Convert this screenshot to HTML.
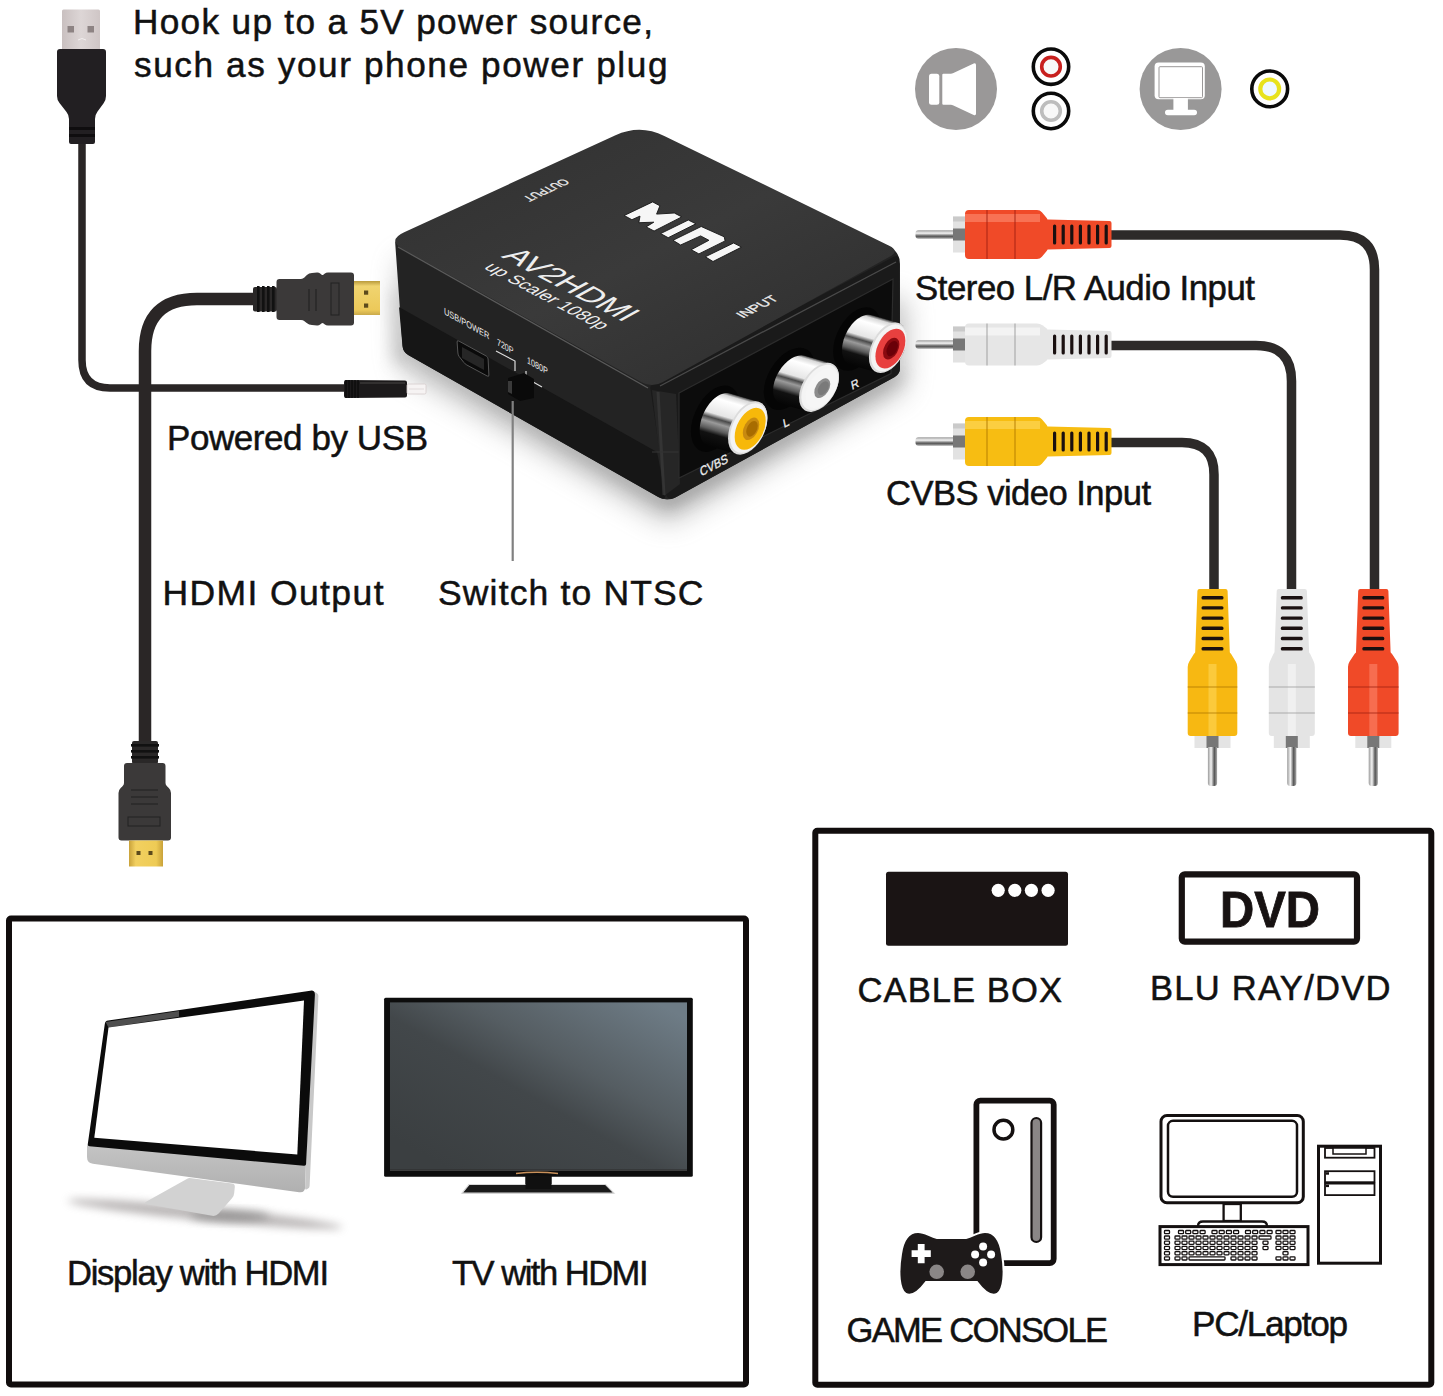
<!DOCTYPE html>
<html><head><meta charset="utf-8"><title>AV2HDMI</title>
<style>
html,body{margin:0;padding:0;background:#fff;}
body{width:1443px;height:1396px;overflow:hidden;}
svg{display:block;}
text{font-family:"Liberation Sans",sans-serif;}
</style></head><body>
<svg width="1443" height="1396" viewBox="0 0 1443 1396">
<defs>
<filter id="b2" x="-50%" y="-50%" width="200%" height="200%"><feGaussianBlur stdDeviation="2"/></filter>
<filter id="b4" x="-50%" y="-50%" width="200%" height="200%"><feGaussianBlur stdDeviation="4"/></filter>
<filter id="b8" x="-50%" y="-50%" width="200%" height="200%"><feGaussianBlur stdDeviation="8"/></filter>
<filter id="b14" x="-50%" y="-50%" width="200%" height="200%"><feGaussianBlur stdDeviation="14"/></filter>
<linearGradient id="tvscreen" x1="0.1" y1="0.9" x2="0.95" y2="0.05">
 <stop offset="0" stop-color="#3b3f41"/><stop offset="0.42" stop-color="#42474a"/><stop offset="0.62" stop-color="#555d62"/><stop offset="1" stop-color="#6e7c86"/>
</linearGradient>
<linearGradient id="gold" x1="0" y1="0" x2="0" y2="1">
 <stop offset="0" stop-color="#b99a3c"/><stop offset="0.15" stop-color="#f0d470"/><stop offset="0.85" stop-color="#ecc95a"/><stop offset="1" stop-color="#c9a94a"/>
</linearGradient>
<linearGradient id="goldv" x1="0" y1="0" x2="1" y2="0">
 <stop offset="0" stop-color="#c9a23a"/><stop offset="0.2" stop-color="#f2d060"/><stop offset="0.8" stop-color="#eecb55"/><stop offset="1" stop-color="#c9a23a"/>
</linearGradient>
<linearGradient id="pinh" x1="0" y1="0" x2="0" y2="1">
 <stop offset="0" stop-color="#9a9a9a"/><stop offset="0.35" stop-color="#f4f4f4"/><stop offset="0.7" stop-color="#555"/><stop offset="1" stop-color="#aaa"/>
</linearGradient>
<linearGradient id="pinv" x1="0" y1="0" x2="1" y2="0">
 <stop offset="0" stop-color="#9a9a9a"/><stop offset="0.35" stop-color="#f4f4f4"/><stop offset="0.7" stop-color="#555"/><stop offset="1" stop-color="#aaa"/>
</linearGradient>
<linearGradient id="usbmetal" x1="0" y1="0" x2="1" y2="0">
 <stop offset="0" stop-color="#c9c0c0"/><stop offset="0.5" stop-color="#ddd6d6"/><stop offset="1" stop-color="#cfc6c6"/>
</linearGradient>
<linearGradient id="topface" x1="0" y1="0" x2="1" y2="1">
 <stop offset="0" stop-color="#303030"/><stop offset="0.5" stop-color="#3a3a3a"/><stop offset="1" stop-color="#2c2c2c"/>
</linearGradient>
<linearGradient id="imacchin" x1="0" y1="0" x2="0" y2="1">
 <stop offset="0" stop-color="#c4c4c4"/><stop offset="1" stop-color="#b0b0b0"/>
</linearGradient>
</defs>
<rect width="1443" height="1396" fill="#ffffff"/>
<g opacity="0.5" filter="url(#b14)"><polygon points="400.0,260.0 402.0,368.0 668.0,522.0 905.0,388.0 905.0,300.0" fill="#7a7a7a"/></g>
<g opacity="0.25" filter="url(#b8)"><polygon points="390.0,290.0 392.0,362.0 410.0,366.0 400.0,290.0" fill="#777"/></g>
<g opacity="0.5" filter="url(#b8)"><polygon points="410.0,355.0 668.0,508.0 902.0,378.0 902.0,372.0 666.0,500.0 405.0,350.0" fill="#555"/></g>
<path d="M395.2,243.0 Q395.0,240.0 397.7,238.7 L615.6,136.5 Q640.0,125.0 664.3,136.9 L889.2,246.7 Q900.0,252.0 900.0,264.0 L900.0,368.0 Q900.0,374.0 894.7,376.9 L675.8,497.2 Q667.0,502.0 658.3,497.1 L408.2,355.0 Q403.0,352.0 402.6,346.0 Z" fill="#232323"/>
<path d="M399.1,308.0 Q399.0,307.0 399.9,307.5 L656.1,451.5 Q657.0,452.0 657.2,453.0 L665.0,492.2 Q667.0,502.0 658.3,497.1 L408.2,355.0 Q403.0,352.0 402.5,346.0 Z" fill="#161616"/>
<path d="M650.3,388.0 Q650.0,386.0 651.8,385.1 L893.7,256.8 Q899.0,254.0 899.0,260.0 L900.0,368.0 Q900.0,374.0 894.7,376.9 L675.8,497.2 Q667.0,502.0 665.5,492.1 Z" fill="#1a1a1a"/>
<polygon points="652.0,390.0 676.0,394.0 680.0,484.0 664.0,496.0" fill="#262626"/>
<line x1="658" y1="392" x2="664" y2="495" stroke="#3a3a3a" stroke-width="3" opacity="0.7"/>
<line x1="652" y1="452" x2="679" y2="452" stroke="#333" stroke-width="1.2"/>
<polygon points="679.0,393.0 893.0,279.0 891.0,373.5 679.0,478.0" fill="#0c0c0c" stroke="#2c2c2c" stroke-width="1.2"/>
<path d="M403.5,249.4 Q386.9,240.1 404.2,232.2 L615.5,135.3 Q640.0,124.0 664.3,135.9 L889.2,245.7 Q900.0,251.0 889.5,256.8 L662.5,382.2 Q652.0,388.0 641.5,382.2 Z" fill="url(#topface)"/>
<path d="M398,247 L648,388" stroke="#5a5a5a" stroke-width="1.3" fill="none"/>
<path d="M660,386 L896,262" stroke="#4a4a4a" stroke-width="1.3" fill="none"/>
<polygon points="624.2,215.5 652.7,201.9 659.9,205.8 656.6,214.1 674.3,213.0 681.8,216.9 654.1,231.0 646.1,226.9 653.8,222.2 638.8,222.7 640.0,216.1 631.9,219.7" fill="#f6f6f6" stroke="#151515" stroke-width="0.9" stroke-linejoin="round"/>
<polygon points="660.6,233.6 688.3,220.0 695.9,223.8 668.2,237.7" fill="#f6f6f6" stroke="#151515" stroke-width="0.9" stroke-linejoin="round"/>
<polygon points="673.0,240.3 701.2,226.5 724.2,236.8 725.1,240.9 698.9,253.9 691.2,249.7 708.9,240.3 700.6,235.9 680.6,245.0" fill="#f6f6f6" stroke="#151515" stroke-width="0.9" stroke-linejoin="round"/>
<polygon points="705.3,256.8 733.6,243.0 741.6,247.1 713.0,261.5" fill="#f6f6f6" stroke="#151515" stroke-width="0.9" stroke-linejoin="round"/>
<g fill="#eeeeee">
<text transform="matrix(0.883 0.469 -0.877 0.481 500.6 256.8)" font-size="30.7" textLength="140" lengthAdjust="spacingAndGlyphs">AV2HDMI</text>
<text transform="matrix(0.883 0.469 -0.877 0.481 483 268)" font-size="18.5" textLength="133" lengthAdjust="spacingAndGlyphs">up Scaler 1080p</text>
<text transform="matrix(-0.906 0.423 -0.870 -0.493 563 178.5)" font-size="12.5" stroke="#eee" stroke-width="0.35" textLength="45" lengthAdjust="spacingAndGlyphs">OUTPUT</text>
<text transform="matrix(0.886 -0.464 0.870 0.493 743 318.5)" font-size="13.5" stroke="#eee" stroke-width="0.35" textLength="41" lengthAdjust="spacingAndGlyphs">INPUT</text>
<text transform="matrix(0.87 0.493 0 1 444 314)" font-size="9.5" textLength="52" lengthAdjust="spacingAndGlyphs">USB/POWER</text>
<text transform="matrix(0.87 0.493 0 1 497 345)" font-size="9.5" textLength="19" lengthAdjust="spacingAndGlyphs">720P</text>
<text transform="matrix(0.87 0.493 0 1 527 363)" font-size="9.5" textLength="24" lengthAdjust="spacingAndGlyphs">1080P</text>
<text transform="matrix(0.886 -0.464 0.2 1 701 476.5)" font-size="12.5" stroke="#eee" stroke-width="0.3" textLength="31" lengthAdjust="spacingAndGlyphs">CVBS</text>
<text transform="matrix(0.886 -0.464 0.2 1 784 428)" font-size="11.5" stroke="#eee" stroke-width="0.3">L</text>
<text transform="matrix(0.886 -0.464 0.2 1 852 390)" font-size="11.5" stroke="#eee" stroke-width="0.3">R</text>
</g>
<path d="M496,351 L515,361 L515,371 M526,371 L526,378 L542,387" stroke="#ddd" stroke-width="1.2" fill="none"/>
<path d="M457.1,342.0 Q457.0,340.0 458.8,341.0 L486.2,356.0 Q488.0,357.0 488.1,359.0 L488.9,375.0 Q489.0,377.0 487.2,376.0 L466.8,365.0 Q465.0,364.0 463.8,362.4 L459.2,356.6 Q458.0,355.0 457.9,353.0 Z" fill="#0a0a0a" stroke="#555" stroke-width="1"/>
<polygon points="462.0,347.0 484.0,359.0 484.0,370.0 462.0,358.0" fill="#262626"/>
<polygon points="508.0,378.0 524.0,373.0 534.0,379.0 534.0,398.0 520.0,401.0 508.0,394.0" fill="#0a0a0a"/>
<polygon points="508.0,381.0 512.0,381.0 512.0,394.0 508.0,392.0" fill="#3a3a3a"/>
<line x1="512.7" y1="401" x2="512.7" y2="561" stroke="#808080" stroke-width="2.2"/>
<circle r="29.2" transform="matrix(0.818 -0.428 0 1 857.0 339.0)" fill="#050505"/>
<linearGradient id="gr" gradientUnits="userSpaceOnUse" x1="895.4" y1="322.1" x2="880.4" y2="373.5"><stop offset="0" stop-color="#3a3a3a"/><stop offset="0.05" stop-color="#d8d8d8"/><stop offset="0.15" stop-color="#ffffff"/><stop offset="0.42" stop-color="#e6e6e6"/><stop offset="0.5" stop-color="#4a4a4a"/><stop offset="0.58" stop-color="#9a9a9a"/><stop offset="0.7" stop-color="#5a5a5a"/><stop offset="0.78" stop-color="#111"/><stop offset="1" stop-color="#050505"/></linearGradient>
<path d="M842.0,349.9 L842.1,347.8 L842.3,345.7 L842.7,343.6 L843.2,341.4 L843.8,339.2 L844.6,337.0 L845.5,334.8 L846.5,332.7 L847.6,330.6 L848.8,328.6 L850.1,326.7 L851.5,324.8 L853.0,323.1 L854.5,321.6 L856.1,320.1 L857.7,318.8 L859.4,317.7 L861.0,316.8 L862.7,316.0 L864.3,315.4 L865.9,315.0 L867.5,314.8 L869.0,314.7 L870.5,314.9 L871.9,315.3 L898.8,323.1 L900.1,323.6 L901.3,324.4 L902.4,325.3 L903.4,326.4 L904.3,327.6 L905.1,329.0 L905.7,330.5 L906.2,332.2 L906.6,334.0 L906.8,335.9 L906.9,337.9 L906.8,339.9 L906.6,342.0 L906.2,344.2 L905.7,346.4 L905.1,348.6 L904.3,350.8 L903.4,353.0 L902.4,355.1 L901.3,357.2 L900.1,359.2 L898.8,361.1 L897.4,362.9 L895.9,364.6 L894.4,366.2 L892.8,367.6 L891.2,368.9 L889.6,370.0 L887.9,371.0 L886.2,371.8 L884.6,372.4 L883.0,372.8 L881.4,373.0 L879.9,373.0 L878.4,372.9 L877.0,372.5 L850.1,364.7 L848.8,364.1 L847.6,363.4 L846.5,362.5 L845.5,361.4 L844.6,360.2 L843.8,358.8 L843.2,357.2 L842.7,355.6 L842.3,353.8 L842.1,351.9 Z" fill="url(#gr)"/>
<circle r="23.2" transform="matrix(0.818 -0.428 0 1 887.9 347.8)" fill="#dcdcdc"/>
<circle r="21.6" transform="matrix(0.818 -0.428 0 1 888.7 347.8)" fill="#f4f4f4"/>
<circle r="18.3" transform="matrix(0.818 -0.428 0 1 890.4 348.6)" fill="#e8403f"/>
<circle r="10.0" transform="matrix(0.818 -0.428 0 1 891.2 348.6)" fill="#8a0a10"/>
<circle r="7.0" transform="matrix(0.818 -0.428 0 1 892.2 348.6)" fill="#6a0008"/>
<circle r="28.2" transform="matrix(0.898 -0.470 0 1 789.1 378.8)" fill="#050505"/>
<linearGradient id="gw" gradientUnits="userSpaceOnUse" x1="826.4" y1="362.0" x2="811.6" y2="412.8"><stop offset="0" stop-color="#3a3a3a"/><stop offset="0.05" stop-color="#d8d8d8"/><stop offset="0.15" stop-color="#ffffff"/><stop offset="0.42" stop-color="#e6e6e6"/><stop offset="0.5" stop-color="#4a4a4a"/><stop offset="0.58" stop-color="#9a9a9a"/><stop offset="0.7" stop-color="#5a5a5a"/><stop offset="0.78" stop-color="#111"/><stop offset="1" stop-color="#050505"/></linearGradient>
<path d="M773.1,390.3 L773.2,388.3 L773.4,386.3 L773.8,384.2 L774.3,382.1 L775.0,379.9 L775.8,377.8 L776.7,375.7 L777.8,373.6 L779.0,371.5 L780.3,369.5 L781.6,367.6 L783.1,365.8 L784.7,364.1 L786.3,362.6 L787.9,361.1 L789.6,359.8 L791.3,358.6 L793.1,357.6 L794.8,356.8 L796.5,356.2 L798.2,355.7 L799.9,355.4 L801.5,355.3 L803.1,355.4 L804.5,355.7 L830.4,363.2 L831.8,363.7 L833.1,364.3 L834.3,365.1 L835.3,366.1 L836.3,367.3 L837.1,368.6 L837.7,370.0 L838.3,371.6 L838.6,373.3 L838.9,375.1 L838.9,377.0 L838.9,378.9 L838.6,381.0 L838.3,383.1 L837.7,385.2 L837.1,387.3 L836.3,389.5 L835.3,391.6 L834.3,393.7 L833.1,395.7 L831.8,397.7 L830.4,399.6 L829.0,401.4 L827.4,403.1 L825.8,404.7 L824.2,406.1 L822.5,407.4 L820.7,408.6 L819.0,409.6 L817.3,410.4 L815.5,411.1 L813.8,411.5 L812.2,411.8 L810.6,411.9 L809.0,411.8 L807.6,411.6 L781.6,404.0 L780.3,403.6 L779.0,402.9 L777.8,402.1 L776.7,401.1 L775.8,400.0 L775.0,398.7 L774.3,397.2 L773.8,395.7 L773.4,394.0 L773.2,392.2 Z" fill="url(#gw)"/>
<circle r="22.2" transform="matrix(0.898 -0.470 0 1 819.0 387.4)" fill="#dcdcdc"/>
<circle r="20.6" transform="matrix(0.898 -0.470 0 1 819.8 387.4)" fill="#f4f4f4"/>
<circle r="17.8" transform="matrix(0.898 -0.470 0 1 821.5 388.2)" fill="#f6f6f6"/>
<circle r="8.9" transform="matrix(0.898 -0.470 0 1 822.3 388.2)" fill="#8c8c8c"/>
<circle r="6.2" transform="matrix(0.898 -0.470 0 1 823.3 388.2)" fill="#7a7a7a"/>
<circle r="30.6" transform="matrix(0.800 -0.419 0 1 715.4 418.7)" fill="#050505"/>
<linearGradient id="gy" gradientUnits="userSpaceOnUse" x1="755.6" y1="400.9" x2="739.8" y2="455.1"><stop offset="0" stop-color="#3a3a3a"/><stop offset="0.05" stop-color="#d8d8d8"/><stop offset="0.15" stop-color="#ffffff"/><stop offset="0.42" stop-color="#e6e6e6"/><stop offset="0.5" stop-color="#4a4a4a"/><stop offset="0.58" stop-color="#9a9a9a"/><stop offset="0.7" stop-color="#5a5a5a"/><stop offset="0.78" stop-color="#111"/><stop offset="1" stop-color="#050505"/></linearGradient>
<path d="M699.7,430.0 L699.8,427.9 L700.0,425.6 L700.4,423.3 L700.9,421.0 L701.5,418.7 L702.3,416.4 L703.3,414.1 L704.3,411.8 L705.5,409.6 L706.7,407.5 L708.1,405.5 L709.5,403.6 L711.1,401.8 L712.6,400.1 L714.3,398.6 L716.0,397.3 L717.7,396.1 L719.4,395.1 L721.1,394.3 L722.8,393.7 L724.5,393.3 L726.1,393.1 L727.7,393.1 L729.2,393.3 L730.7,393.7 L759.0,401.9 L760.4,402.5 L761.6,403.3 L762.8,404.3 L763.8,405.4 L764.7,406.8 L765.5,408.3 L766.2,409.9 L766.7,411.7 L767.1,413.6 L767.3,415.6 L767.4,417.7 L767.3,419.9 L767.1,422.1 L766.7,424.4 L766.2,426.7 L765.5,429.1 L764.7,431.4 L763.8,433.7 L762.8,435.9 L761.6,438.1 L760.4,440.2 L759.0,442.2 L757.5,444.2 L756.0,445.9 L754.4,447.6 L752.8,449.1 L751.1,450.4 L749.4,451.6 L747.7,452.6 L746.0,453.4 L744.3,454.0 L742.6,454.4 L741.0,454.6 L739.4,454.7 L737.9,454.5 L736.4,454.1 L708.1,445.8 L706.7,445.2 L705.5,444.4 L704.3,443.4 L703.3,442.3 L702.3,441.0 L701.5,439.5 L700.9,437.8 L700.4,436.1 L700.0,434.2 L699.8,432.2 Z" fill="url(#gy)"/>
<circle r="24.6" transform="matrix(0.800 -0.419 0 1 747.7 428.0)" fill="#dcdcdc"/>
<circle r="22.9" transform="matrix(0.800 -0.419 0 1 748.5 428.0)" fill="#f4f4f4"/>
<circle r="19.4" transform="matrix(0.800 -0.419 0 1 750.2 428.8)" fill="#f7b80a"/>
<circle r="10.3" transform="matrix(0.800 -0.419 0 1 751.0 428.8)" fill="#c88a10"/>
<circle r="7.2" transform="matrix(0.800 -0.419 0 1 752.0 428.8)" fill="#a86c00"/>
<path d="M82,140 L82,360 Q82,388 110,388 L346,388" stroke="#2a2626" stroke-width="7.5" fill="none"/>
<path d="M344.0,382.0 Q344.0,380.0 346.0,380.0 L405.0,380.5 Q407.0,380.5 407.0,382.5 L407.0,395.5 Q407.0,397.5 405.0,397.5 L346.0,398.0 Q344.0,398.0 344.0,396.0 Z" fill="#1c1a1b"/>
<line x1="346" y1="380" x2="346" y2="398" stroke="#0a0a0a" stroke-width="1.2"/>
<line x1="349" y1="380" x2="349" y2="398" stroke="#0a0a0a" stroke-width="1.2"/>
<line x1="352" y1="380" x2="352" y2="398" stroke="#0a0a0a" stroke-width="1.2"/>
<line x1="355" y1="380" x2="355" y2="398" stroke="#0a0a0a" stroke-width="1.2"/>
<line x1="358" y1="380" x2="358" y2="398" stroke="#0a0a0a" stroke-width="1.2"/>
<line x1="360" y1="383" x2="405" y2="383" stroke="#3a3838" stroke-width="1.5"/>
<path d="M407.0,385.5 Q407.0,384.0 408.5,384.0 L424.5,384.0 Q426.0,384.0 426.0,385.5 L426.0,392.5 Q426.0,394.0 424.5,394.0 L408.5,394.0 Q407.0,394.0 407.0,392.5 Z" fill="#f6f3f3" stroke="#d6cccc" stroke-width="0.8"/>
<line x1="409" y1="389" x2="424" y2="389" stroke="#ddd4d4" stroke-width="0.8"/>
<path d="M62.0,11.0 Q62.0,9.5 63.5,9.5 L98.5,9.5 Q100.0,9.5 100.0,11.0 L100.0,48.5 Q100.0,50.0 98.5,50.0 L63.5,50.0 Q62.0,50.0 62.0,48.5 Z" fill="url(#usbmetal)"/>
<rect x="67.5" y="26" width="6.5" height="6.5" fill="#8d8383"/><rect x="87.5" y="26" width="6.5" height="6.5" fill="#8d8383"/>
<path d="M78,40 l4,-1.5 l4,1.5" stroke="#f2eeee" stroke-width="1" fill="none"/>
<path d="M57.0,52.0 Q57.0,49.0 60.0,49.0 L103.0,49.0 Q106.0,49.0 106.0,52.0 L106.0,96.0 Q106.0,100.0 103.6,103.2 L97.4,111.8 Q95.0,115.0 95.0,119.0 L95.0,142.0 Q95.0,144.0 93.0,144.0 L71.0,144.0 Q69.0,144.0 69.0,142.0 L69.0,119.0 Q69.0,115.0 66.5,111.9 L59.5,103.1 Q57.0,100.0 57.0,96.0 Z" fill="#221f22"/>
<rect x="69" y="127" width="26" height="3" fill="#0f0d0f"/><rect x="69" y="134" width="26" height="3" fill="#0f0d0f"/>
<path d="M256,299 L197,299 Q145,299 145,351 L145,745" stroke="#2a2626" stroke-width="12.5" fill="none"/>
<path d="M253.0,289.0 Q253.0,287.0 255.0,287.0 L275.0,287.0 Q277.0,287.0 277.0,289.0 L277.0,309.5 Q277.0,311.5 275.0,311.5 L255.0,311.5 Q253.0,311.5 253.0,309.5 Z" fill="#2a2828"/>
<rect x="257" y="286" width="2.6" height="26" fill="#111"/>
<rect x="262" y="286" width="2.6" height="26" fill="#111"/>
<rect x="267" y="286" width="2.6" height="26" fill="#111"/>
<rect x="272" y="286" width="2.6" height="26" fill="#111"/>
<path d="M276.5,282.0 Q276.5,279.0 279.5,279.0 L301.0,279.0 Q303.0,279.0 304.4,277.6 L306.9,275.1 Q309.0,273.0 312.0,272.9 L317.0,272.6 Q319.0,272.5 320.5,273.8 L321.4,274.5 Q322.5,275.5 323.6,274.5 L324.5,273.8 Q326.0,272.5 328.0,272.5 L351.0,272.5 Q354.0,272.5 354.0,275.5 L354.0,322.5 Q354.0,325.5 351.0,325.5 L328.0,325.5 Q326.0,325.5 324.5,324.2 L323.6,323.5 Q322.5,322.5 321.4,323.5 L320.5,324.2 Q319.0,325.5 317.0,325.4 L312.0,325.1 Q309.0,325.0 306.7,323.1 L304.5,321.3 Q303.0,320.0 301.0,320.0 L279.5,320.0 Q276.5,320.0 276.5,317.0 Z" fill="#3b3939"/>
<path d="M309,289 L309,311 M316,289 L316,311" stroke="#2a2828" stroke-width="1.6"/>
<rect x="331" y="283" width="8" height="32" fill="none" stroke="#222" stroke-width="1"/>
<rect x="354" y="281" width="26" height="34" fill="url(#gold)"/>
<rect x="364" y="290.5" width="4.2" height="4.2" fill="#5c4a1c"/><rect x="364" y="303.5" width="4.2" height="4.2" fill="#5c4a1c"/>
<path d="M132.0,743.0 Q132.0,741.0 134.0,741.0 L156.0,741.0 Q158.0,741.0 158.0,743.0 L158.0,762.0 Q158.0,764.0 156.0,764.0 L134.0,764.0 Q132.0,764.0 132.0,762.0 Z" fill="#2a2828"/>
<rect x="131" y="744" width="28" height="2.6" fill="#111"/>
<rect x="131" y="750" width="28" height="2.6" fill="#111"/>
<rect x="131" y="756" width="28" height="2.6" fill="#111"/>
<path d="M124.0,766.0 Q124.0,763.0 127.0,763.0 L162.5,763.0 Q165.5,763.0 165.5,766.0 L165.5,783.0 Q165.5,785.0 167.0,786.3 L168.8,788.0 Q171.0,790.0 171.0,793.0 L171.0,837.5 Q171.0,840.5 168.0,840.5 L121.5,840.5 Q118.5,840.5 118.5,837.5 L118.5,793.0 Q118.5,790.0 120.7,788.0 L122.5,786.3 Q124.0,785.0 124.0,783.0 Z" fill="#3b3939"/>
<path d="M131,790 L158,790 M131,797 L158,797 M131,804 L158,804" stroke="#2a2828" stroke-width="1.5"/>
<rect x="128" y="817" width="32" height="9" fill="none" stroke="#222" stroke-width="1"/>
<rect x="129" y="840.5" width="34" height="26" fill="url(#goldv)"/>
<rect x="136.5" y="851" width="4" height="4" fill="#5c4a1c"/><rect x="148.5" y="851" width="4" height="4" fill="#5c4a1c"/>
<path d="M1108,235 L1340,235 Q1374.5,235 1374.5,269.5 L1374.5,592" stroke="#2d2a29" stroke-width="9.5" fill="none"/>
<path d="M1110,345.4 L1256,345.4 Q1291.5,345.4 1291.5,381 L1291.5,592" stroke="#2d2a29" stroke-width="9.5" fill="none"/>
<path d="M1108,442.4 L1182,442.4 Q1214,442.4 1214,474.4 L1214,592" stroke="#2d2a29" stroke-width="9.5" fill="none"/>
<path d="M915.5,233.2 Q915.5,230.2 918.5,230.2 L954.0,230.2 Q954.0,230.2 954.0,230.2 L954.0,238.8 Q954.0,238.8 954.0,238.8 L918.5,238.8 Q915.5,238.8 915.5,235.8 Z" fill="url(#pinh)"/>
<rect x="953" y="216.5" width="13" height="36.0" fill="#e2e2e2"/>
<rect x="953" y="228.5" width="13" height="12.0" fill="#777"/>
<rect x="953" y="216.5" width="13" height="5.0" fill="#bbb" opacity="0.6"/>
<path d="M965.0,214.0 Q965.0,210.0 969.0,210.0 L1037.0,210.0 Q1040.0,210.0 1041.9,212.3 L1046.7,218.0 Q1048.0,219.5 1048.0,221.5 L1048.0,247.5 Q1048.0,249.5 1046.7,251.0 L1041.9,256.7 Q1040.0,259.0 1037.0,259.0 L969.0,259.0 Q965.0,259.0 965.0,255.0 Z" fill="#f04a28"/>
<rect x="965" y="214.0" width="75" height="8.0" fill="#ff9a80" opacity="0.5"/>
<rect x="986" y="210.0" width="2" height="49.0" fill="#a02010" opacity="0.45"/>
<rect x="1014" y="210.0" width="2" height="49.0" fill="#a02010" opacity="0.45"/>
<path d="M1046.0,221.5 Q1046.0,219.5 1048.0,219.5 L1109.5,221.0 Q1111.5,221.0 1111.5,223.0 L1111.5,246.0 Q1111.5,248.0 1109.5,248.0 L1048.0,249.5 Q1046.0,249.5 1046.0,247.5 Z" fill="#f04a28"/>
<rect x="1053.0" y="224.5" width="3.2" height="20.0" rx="1.5" fill="#1a1010"/>
<rect x="1061.6" y="224.5" width="3.2" height="20.0" rx="1.5" fill="#1a1010"/>
<rect x="1070.2" y="224.5" width="3.2" height="20.0" rx="1.5" fill="#1a1010"/>
<rect x="1078.8" y="224.5" width="3.2" height="20.0" rx="1.5" fill="#1a1010"/>
<rect x="1087.4" y="224.5" width="3.2" height="20.0" rx="1.5" fill="#1a1010"/>
<rect x="1096.0" y="224.5" width="3.2" height="20.0" rx="1.5" fill="#1a1010"/>
<rect x="1104.6" y="224.5" width="3.2" height="20.0" rx="1.5" fill="#1a1010"/>
<path d="M915.5,343.2 Q915.5,340.2 918.5,340.2 L954.0,340.2 Q954.0,340.2 954.0,340.2 L954.0,348.8 Q954.0,348.8 954.0,348.8 L918.5,348.8 Q915.5,348.8 915.5,345.8 Z" fill="url(#pinh)"/>
<rect x="953" y="326.5" width="13" height="36.0" fill="#e2e2e2"/>
<rect x="953" y="338.5" width="13" height="12.0" fill="#777"/>
<rect x="953" y="326.5" width="13" height="5.0" fill="#bbb" opacity="0.6"/>
<path d="M965.0,327.5 Q965.0,323.5 969.0,323.5 L1037.0,323.5 Q1040.0,323.5 1042.4,325.3 L1046.4,328.3 Q1048.0,329.5 1048.0,331.5 L1048.0,357.5 Q1048.0,359.5 1046.4,360.7 L1042.4,363.7 Q1040.0,365.5 1037.0,365.5 L969.0,365.5 Q965.0,365.5 965.0,361.5 Z" fill="#e6e6e6"/>
<rect x="965" y="327.5" width="75" height="8.0" fill="#ffffff" opacity="0.5"/>
<rect x="986" y="323.5" width="2" height="42.0" fill="#9a9a9a" opacity="0.45"/>
<rect x="1014" y="323.5" width="2" height="42.0" fill="#9a9a9a" opacity="0.45"/>
<path d="M1046.0,331.5 Q1046.0,329.5 1048.0,329.5 L1109.5,331.0 Q1111.5,331.0 1111.5,333.0 L1111.5,356.0 Q1111.5,358.0 1109.5,358.0 L1048.0,359.5 Q1046.0,359.5 1046.0,357.5 Z" fill="#e6e6e6"/>
<rect x="1053.0" y="334.5" width="3.2" height="20.0" rx="1.5" fill="#1a1010"/>
<rect x="1061.6" y="334.5" width="3.2" height="20.0" rx="1.5" fill="#1a1010"/>
<rect x="1070.2" y="334.5" width="3.2" height="20.0" rx="1.5" fill="#1a1010"/>
<rect x="1078.8" y="334.5" width="3.2" height="20.0" rx="1.5" fill="#1a1010"/>
<rect x="1087.4" y="334.5" width="3.2" height="20.0" rx="1.5" fill="#1a1010"/>
<rect x="1096.0" y="334.5" width="3.2" height="20.0" rx="1.5" fill="#1a1010"/>
<rect x="1104.6" y="334.5" width="3.2" height="20.0" rx="1.5" fill="#1a1010"/>
<path d="M915.5,440.2 Q915.5,437.2 918.5,437.2 L954.0,437.2 Q954.0,437.2 954.0,437.2 L954.0,445.8 Q954.0,445.8 954.0,445.8 L918.5,445.8 Q915.5,445.8 915.5,442.8 Z" fill="url(#pinh)"/>
<rect x="953" y="423.5" width="13" height="36.0" fill="#e2e2e2"/>
<rect x="953" y="435.5" width="13" height="12.0" fill="#777"/>
<rect x="953" y="423.5" width="13" height="5.0" fill="#bbb" opacity="0.6"/>
<path d="M965.0,421.0 Q965.0,417.0 969.0,417.0 L1037.0,417.0 Q1040.0,417.0 1041.9,419.3 L1046.7,425.0 Q1048.0,426.5 1048.0,428.5 L1048.0,454.5 Q1048.0,456.5 1046.7,458.0 L1041.9,463.7 Q1040.0,466.0 1037.0,466.0 L969.0,466.0 Q965.0,466.0 965.0,462.0 Z" fill="#f7bd12"/>
<rect x="965" y="421.0" width="75" height="8.0" fill="#ffe070" opacity="0.5"/>
<rect x="986" y="417.0" width="2" height="49.0" fill="#b07800" opacity="0.45"/>
<rect x="1014" y="417.0" width="2" height="49.0" fill="#b07800" opacity="0.45"/>
<path d="M1046.0,428.5 Q1046.0,426.5 1048.0,426.5 L1109.5,428.0 Q1111.5,428.0 1111.5,430.0 L1111.5,453.0 Q1111.5,455.0 1109.5,455.0 L1048.0,456.5 Q1046.0,456.5 1046.0,454.5 Z" fill="#f7bd12"/>
<rect x="1053.0" y="431.5" width="3.2" height="20.0" rx="1.5" fill="#1a1010"/>
<rect x="1061.6" y="431.5" width="3.2" height="20.0" rx="1.5" fill="#1a1010"/>
<rect x="1070.2" y="431.5" width="3.2" height="20.0" rx="1.5" fill="#1a1010"/>
<rect x="1078.8" y="431.5" width="3.2" height="20.0" rx="1.5" fill="#1a1010"/>
<rect x="1087.4" y="431.5" width="3.2" height="20.0" rx="1.5" fill="#1a1010"/>
<rect x="1096.0" y="431.5" width="3.2" height="20.0" rx="1.5" fill="#1a1010"/>
<rect x="1104.6" y="431.5" width="3.2" height="20.0" rx="1.5" fill="#1a1010"/>
<path d="M1197.4,591.0 Q1197.5,589.0 1199.5,589.0 L1225.5,589.0 Q1227.5,589.0 1227.6,591.0 L1229.9,655.0 Q1230.0,657.0 1228.0,657.0 L1197.0,657.0 Q1195.0,657.0 1195.1,655.0 Z" fill="#f7b812"/>
<rect x="1201.5" y="596.0" width="22.0" height="3.4" rx="1.5" fill="#1a1010"/>
<rect x="1201.5" y="606.2" width="22.0" height="3.4" rx="1.5" fill="#1a1010"/>
<rect x="1201.5" y="616.4" width="22.0" height="3.4" rx="1.5" fill="#1a1010"/>
<rect x="1201.5" y="626.6" width="22.0" height="3.4" rx="1.5" fill="#1a1010"/>
<rect x="1201.5" y="636.8" width="22.0" height="3.4" rx="1.5" fill="#1a1010"/>
<rect x="1201.5" y="647.0" width="22.0" height="3.4" rx="1.5" fill="#1a1010"/>
<path d="M1194.0,653.7 Q1195.0,652.0 1197.0,652.0 L1228.0,652.0 Q1230.0,652.0 1231.0,653.7 L1235.7,661.4 Q1237.3,664.0 1237.3,667.0 L1237.3,733.0 Q1237.3,736.0 1234.3,736.0 L1190.7,736.0 Q1187.7,736.0 1187.7,733.0 L1187.7,667.0 Q1187.7,664.0 1189.3,661.4 Z" fill="#f7b812"/>
<rect x="1208.5" y="664" width="8" height="72" fill="#ffe070" opacity="0.45"/>
<rect x="1187.7" y="686" width="49.6" height="2" fill="#b07800" opacity="0.4"/>
<rect x="1187.7" y="712" width="49.6" height="2" fill="#b07800" opacity="0.4"/>
<rect x="1194.5" y="736" width="36" height="12" fill="#e4e4e4"/>
<rect x="1206.5" y="736" width="12" height="12" fill="#777"/>
<path d="M1207.9,747.0 Q1207.9,747.0 1207.9,747.0 L1217.1,747.0 Q1217.1,747.0 1217.1,747.0 L1217.1,783.0 Q1217.1,786.0 1214.1,786.0 L1210.9,786.0 Q1207.9,786.0 1207.9,783.0 Z" fill="url(#pinv)"/>
<path d="M1276.7,591.0 Q1276.8,589.0 1278.8,589.0 L1304.8,589.0 Q1306.8,589.0 1306.9,591.0 L1309.2,655.0 Q1309.3,657.0 1307.3,657.0 L1276.3,657.0 Q1274.3,657.0 1274.4,655.0 Z" fill="#e4e4e4"/>
<rect x="1280.8" y="596.0" width="22.0" height="3.4" rx="1.5" fill="#1a1010"/>
<rect x="1280.8" y="606.2" width="22.0" height="3.4" rx="1.5" fill="#1a1010"/>
<rect x="1280.8" y="616.4" width="22.0" height="3.4" rx="1.5" fill="#1a1010"/>
<rect x="1280.8" y="626.6" width="22.0" height="3.4" rx="1.5" fill="#1a1010"/>
<rect x="1280.8" y="636.8" width="22.0" height="3.4" rx="1.5" fill="#1a1010"/>
<rect x="1280.8" y="647.0" width="22.0" height="3.4" rx="1.5" fill="#1a1010"/>
<path d="M1273.5,653.8 Q1274.3,652.0 1276.3,652.0 L1307.3,652.0 Q1309.3,652.0 1310.1,653.8 L1313.6,661.3 Q1314.8,664.0 1314.8,667.0 L1314.8,733.0 Q1314.8,736.0 1311.8,736.0 L1271.8,736.0 Q1268.8,736.0 1268.8,733.0 L1268.8,667.0 Q1268.8,664.0 1270.0,661.3 Z" fill="#e4e4e4"/>
<rect x="1287.8" y="664" width="8" height="72" fill="#ffffff" opacity="0.45"/>
<rect x="1268.8" y="686" width="46.0" height="2" fill="#9a9a9a" opacity="0.4"/>
<rect x="1268.8" y="712" width="46.0" height="2" fill="#9a9a9a" opacity="0.4"/>
<rect x="1273.8" y="736" width="36" height="12" fill="#e4e4e4"/>
<rect x="1285.8" y="736" width="12" height="12" fill="#777"/>
<path d="M1287.2,747.0 Q1287.2,747.0 1287.2,747.0 L1296.4,747.0 Q1296.4,747.0 1296.4,747.0 L1296.4,783.0 Q1296.4,786.0 1293.4,786.0 L1290.2,786.0 Q1287.2,786.0 1287.2,783.0 Z" fill="url(#pinv)"/>
<path d="M1358.2,591.0 Q1358.3,589.0 1360.3,589.0 L1386.3,589.0 Q1388.3,589.0 1388.4,591.0 L1390.7,655.0 Q1390.8,657.0 1388.8,657.0 L1357.8,657.0 Q1355.8,657.0 1355.9,655.0 Z" fill="#f04a28"/>
<rect x="1362.3" y="596.0" width="22.0" height="3.4" rx="1.5" fill="#1a1010"/>
<rect x="1362.3" y="606.2" width="22.0" height="3.4" rx="1.5" fill="#1a1010"/>
<rect x="1362.3" y="616.4" width="22.0" height="3.4" rx="1.5" fill="#1a1010"/>
<rect x="1362.3" y="626.6" width="22.0" height="3.4" rx="1.5" fill="#1a1010"/>
<rect x="1362.3" y="636.8" width="22.0" height="3.4" rx="1.5" fill="#1a1010"/>
<rect x="1362.3" y="647.0" width="22.0" height="3.4" rx="1.5" fill="#1a1010"/>
<path d="M1354.7,653.7 Q1355.8,652.0 1357.8,652.0 L1388.8,652.0 Q1390.8,652.0 1391.9,653.7 L1397.0,661.5 Q1398.6,664.0 1398.6,667.0 L1398.6,733.0 Q1398.6,736.0 1395.6,736.0 L1351.0,736.0 Q1348.0,736.0 1348.0,733.0 L1348.0,667.0 Q1348.0,664.0 1349.6,661.5 Z" fill="#f04a28"/>
<rect x="1369.3" y="664" width="8" height="72" fill="#ff9a80" opacity="0.45"/>
<rect x="1348.0" y="686" width="50.6" height="2" fill="#a02010" opacity="0.4"/>
<rect x="1348.0" y="712" width="50.6" height="2" fill="#a02010" opacity="0.4"/>
<rect x="1355.3" y="736" width="36" height="12" fill="#e4e4e4"/>
<rect x="1367.3" y="736" width="12" height="12" fill="#777"/>
<path d="M1368.7,747.0 Q1368.7,747.0 1368.7,747.0 L1377.9,747.0 Q1377.9,747.0 1377.9,747.0 L1377.9,783.0 Q1377.9,786.0 1374.9,786.0 L1371.7,786.0 Q1368.7,786.0 1368.7,783.0 Z" fill="url(#pinv)"/>
<circle cx="956" cy="89" r="41" fill="#9a9898"/>
<path d="M929.0,76.2 Q929.0,73.7 931.5,73.7 L936.8,73.7 Q939.3,73.7 939.3,76.2 L939.3,102.3 Q939.3,104.8 936.8,104.8 L931.5,104.8 Q929.0,104.8 929.0,102.3 Z" fill="#fff"/>
<path d="M942.3,74.7 Q942.3,73.7 943.3,73.7 L951.0,73.7 Q952.0,73.7 952.9,73.3 L973.7,63.6 Q976.0,62.6 976.0,65.1 L976.0,113.5 Q976.0,116.0 973.7,114.9 L952.9,105.2 Q952.0,104.8 951.0,104.8 L943.3,104.8 Q942.3,104.8 942.3,103.8 Z" fill="#fff"/>
<circle cx="1051" cy="66.7" r="17.7" fill="#fff" stroke="#0a0a0a" stroke-width="3.6"/>
<circle cx="1051" cy="66.7" r="9.3" fill="#f8f8f8" stroke="#c8201e" stroke-width="3.6"/>
<circle cx="1051" cy="111.0" r="17.7" fill="#fff" stroke="#0a0a0a" stroke-width="3.6"/>
<circle cx="1051" cy="111.0" r="9.3" fill="#f8f8f8" stroke="#bdbdbd" stroke-width="3.6"/>
<circle cx="1180.6" cy="89" r="41" fill="#999898"/>
<rect x="1154.6" y="62.6" width="50.2" height="36.7" rx="4" fill="#fff"/>
<rect x="1159" y="66.7" width="43.5" height="31" rx="1" fill="none" stroke="#9a9898" stroke-width="1"/>
<rect x="1173.4" y="98" width="14.5" height="13" fill="#fff"/>
<rect x="1165" y="109.7" width="32" height="5.6" rx="2.8" fill="#fff"/>
<circle cx="1269.7" cy="88.9" r="17.9" fill="#fff" stroke="#0a0a0a" stroke-width="3.6"/>
<circle cx="1269.7" cy="88.9" r="9.4" fill="#eef8ff" stroke="#e8e21c" stroke-width="4.2"/>
<rect x="9" y="918.5" width="737" height="466" rx="2" fill="none" stroke="#110d0d" stroke-width="6"/>
<rect x="815.3" y="830.8" width="616" height="554" rx="2" fill="none" stroke="#110d0d" stroke-width="6"/>
<g opacity="0.6" filter="url(#b4)"><ellipse cx="205" cy="1214" rx="138" ry="6.5" transform="rotate(5.5 205 1214)" fill="#8a8484"/></g>
<g opacity="0.5" filter="url(#b4)"><ellipse cx="230" cy="1216" rx="40" ry="6" fill="#777"/></g>
<path d="M187.7,1178.5 Q188.6,1178.0 189.6,1178.1 L232.0,1183.6 Q235.0,1184.0 234.8,1187.0 L234.2,1193.0 Q234.0,1196.0 232.0,1198.3 L218.6,1213.5 Q216.0,1216.5 212.1,1215.8 L146.9,1204.2 Q143.0,1203.5 146.5,1201.5 Z" fill="#d2d2d2"/>
<path d="M87.0,1146.0 Q87.0,1144.0 89.0,1144.2 L304.0,1161.8 Q306.0,1162.0 305.9,1164.0 L305.2,1187.0 Q305.0,1193.0 299.1,1192.2 L92.9,1163.8 Q87.0,1163.0 87.0,1157.0 Z" fill="url(#imacchin)"/>
<path d="M312.9,993.0 Q313.0,991.0 314.8,992.0 L316.7,993.0 Q318.5,994.0 318.4,996.0 L309.6,1186.0 Q309.5,1188.0 307.7,1188.8 L306.8,1189.2 Q305.0,1190.0 305.1,1188.0 Z" fill="#c8c8c8"/>
<path d="M104.8,1024.0 Q105.2,1021.0 108.2,1020.6 L310.3,990.7 Q315.2,990.0 314.9,995.0 L306.1,1164.0 Q306.0,1166.0 304.0,1165.8 L89.5,1146.2 Q87.5,1146.0 87.8,1144.0 Z" fill="#0b0b0b"/>
<polygon points="105.6,1022.0 179.0,1011.0 179.0,1016.8 108.5,1027.5" fill="#4e4e4e"/>
<polygon points="108.5,1027.5 304.0,1000.5 297.3,1154.5 94.3,1137.8" fill="#ffffff"/>
<rect x="384.1" y="997.7" width="308.7" height="179" rx="1.5" fill="#0d0d0d"/>
<rect x="390" y="1002.4" width="297" height="167.3" fill="url(#tvscreen)"/>
<rect x="390" y="1169.7" width="297" height="1.2" fill="#444"/>
<path d="M516,1173.5 Q537,1171 558,1173.5" stroke="#c8905a" stroke-width="1.6" fill="none"/>
<rect x="525.5" y="1176" width="26" height="14" fill="#141414"/>
<polygon points="469.0,1184.5 605.6,1184.5 614.0,1193.2 462.0,1193.2" fill="#1a1a1a" stroke="#d8d8d8" stroke-width="1.2"/>
<rect x="525.5" y="1176" width="26" height="13" fill="#101010"/>
<rect x="886" y="871.7" width="182" height="74" rx="2.5" fill="#1a1414"/>
<circle cx="998.2" cy="890.3" r="6.6" fill="#fff"/>
<circle cx="1014.8" cy="890.3" r="6.6" fill="#fff"/>
<circle cx="1031.4" cy="890.3" r="6.6" fill="#fff"/>
<circle cx="1048.1" cy="890.3" r="6.6" fill="#fff"/>
<rect x="1181.8" y="874.3" width="175.2" height="67.3" rx="3" fill="none" stroke="#171212" stroke-width="6.2"/>
<text x="1220" y="927" font-size="49.5" font-weight="bold" fill="#171212" stroke="#171212" stroke-width="0.8" textLength="100" lengthAdjust="spacingAndGlyphs">DVD</text>
<rect x="976.4" y="1100.6" width="77.3" height="162.5" rx="4" fill="#fff" stroke="#141010" stroke-width="5.8"/>
<circle cx="1003.4" cy="1129.7" r="9.4" fill="#fff" stroke="#141010" stroke-width="3.5"/>
<rect x="1031.5" y="1118" width="9.6" height="124" rx="4.8" fill="#8a8686" stroke="#141010" stroke-width="2.2"/>
<path d="M918,1232 C908,1232 903,1240 901,1254 C898,1272 899,1290 906,1294 C913,1297 920,1290 926,1282 L977,1282 C983,1290 990,1297 997,1294 C1004,1290 1005,1272 1002,1254 C1000,1240 995,1232 985,1232 C978,1232 974,1236 966,1238 L937,1238 C929,1236 925,1232 918,1232 Z" fill="#1e1a1a" stroke="#fff" stroke-width="2"/>
<path d="M917.8,1244 h6.8 v6.2 h6.2 v6.8 h-6.2 v6.2 h-6.8 v-6.2 h-6.2 v-6.8 h6.2 z" fill="#fff"/>
<circle cx="983.1" cy="1246.4" r="4" fill="#fff"/>
<circle cx="975.1" cy="1254.4" r="4" fill="#fff"/>
<circle cx="991.1" cy="1254.4" r="4" fill="#fff"/>
<circle cx="983.1" cy="1262.4" r="4" fill="#fff"/>
<circle cx="936.7" cy="1271.8" r="7.3" fill="#8a8686"/><circle cx="967.7" cy="1271.8" r="7.3" fill="#8a8686"/>
<rect x="1161" y="1115.5" width="142.3" height="87.3" rx="6" fill="#fff" stroke="#141010" stroke-width="3"/>
<rect x="1168" y="1120.8" width="129" height="76" rx="5" fill="#fff" stroke="#141010" stroke-width="2.5"/>
<rect x="1223.6" y="1204" width="17.2" height="17" fill="#fff" stroke="#141010" stroke-width="2.3"/>
<path d="M1198,1226 Q1198,1221.5 1203,1221.5 L1262,1221.5 Q1267,1221.5 1267,1226" fill="#fff" stroke="#141010" stroke-width="2.3"/>
<rect x="1160" y="1226.6" width="148" height="38" fill="#fff" stroke="#141010" stroke-width="3"/>
<g fill="none" stroke="#141010" stroke-width="1.3"><rect x="1164.5" y="1230.5" width="5.0" height="3.2" rx="0.8"/><rect x="1178.5" y="1230.5" width="5.0" height="3.2" rx="0.8"/><rect x="1185.7" y="1230.5" width="5.0" height="3.2" rx="0.8"/><rect x="1192.9" y="1230.5" width="5.0" height="3.2" rx="0.8"/><rect x="1200.1" y="1230.5" width="5.0" height="3.2" rx="0.8"/><rect x="1212.0" y="1230.5" width="5.0" height="3.2" rx="0.8"/><rect x="1219.2" y="1230.5" width="5.0" height="3.2" rx="0.8"/><rect x="1226.4" y="1230.5" width="5.0" height="3.2" rx="0.8"/><rect x="1233.6" y="1230.5" width="5.0" height="3.2" rx="0.8"/><rect x="1245.5" y="1230.5" width="5.0" height="3.2" rx="0.8"/><rect x="1252.7" y="1230.5" width="5.0" height="3.2" rx="0.8"/><rect x="1259.9" y="1230.5" width="5.0" height="3.2" rx="0.8"/><rect x="1267.1" y="1230.5" width="5.0" height="3.2" rx="0.8"/><rect x="1276.0" y="1230.5" width="5.0" height="3.2" rx="0.8"/><rect x="1283.0" y="1230.5" width="5.0" height="3.2" rx="0.8"/><rect x="1290.0" y="1230.5" width="5.0" height="3.2" rx="0.8"/><rect x="1164.5" y="1236.0" width="5.0" height="3.2" rx="0.8"/><rect x="1175.0" y="1236.0" width="5.0" height="3.2" rx="0.8"/><rect x="1182.0" y="1236.0" width="5.0" height="3.2" rx="0.8"/><rect x="1189.0" y="1236.0" width="5.0" height="3.2" rx="0.8"/><rect x="1196.0" y="1236.0" width="5.0" height="3.2" rx="0.8"/><rect x="1203.0" y="1236.0" width="5.0" height="3.2" rx="0.8"/><rect x="1210.0" y="1236.0" width="5.0" height="3.2" rx="0.8"/><rect x="1217.0" y="1236.0" width="5.0" height="3.2" rx="0.8"/><rect x="1224.0" y="1236.0" width="5.0" height="3.2" rx="0.8"/><rect x="1231.0" y="1236.0" width="5.0" height="3.2" rx="0.8"/><rect x="1238.0" y="1236.0" width="5.0" height="3.2" rx="0.8"/><rect x="1245.0" y="1236.0" width="5.0" height="3.2" rx="0.8"/><rect x="1252.0" y="1236.0" width="5.0" height="3.2" rx="0.8"/><rect x="1164.5" y="1241.2" width="5.0" height="3.2" rx="0.8"/><rect x="1175.0" y="1241.2" width="5.0" height="3.2" rx="0.8"/><rect x="1182.0" y="1241.2" width="5.0" height="3.2" rx="0.8"/><rect x="1189.0" y="1241.2" width="5.0" height="3.2" rx="0.8"/><rect x="1196.0" y="1241.2" width="5.0" height="3.2" rx="0.8"/><rect x="1203.0" y="1241.2" width="5.0" height="3.2" rx="0.8"/><rect x="1210.0" y="1241.2" width="5.0" height="3.2" rx="0.8"/><rect x="1217.0" y="1241.2" width="5.0" height="3.2" rx="0.8"/><rect x="1224.0" y="1241.2" width="5.0" height="3.2" rx="0.8"/><rect x="1231.0" y="1241.2" width="5.0" height="3.2" rx="0.8"/><rect x="1238.0" y="1241.2" width="5.0" height="3.2" rx="0.8"/><rect x="1245.0" y="1241.2" width="5.0" height="3.2" rx="0.8"/><rect x="1252.0" y="1241.2" width="5.0" height="3.2" rx="0.8"/><rect x="1164.5" y="1246.4" width="5.0" height="3.2" rx="0.8"/><rect x="1175.0" y="1246.4" width="5.0" height="3.2" rx="0.8"/><rect x="1182.0" y="1246.4" width="5.0" height="3.2" rx="0.8"/><rect x="1189.0" y="1246.4" width="5.0" height="3.2" rx="0.8"/><rect x="1196.0" y="1246.4" width="5.0" height="3.2" rx="0.8"/><rect x="1203.0" y="1246.4" width="5.0" height="3.2" rx="0.8"/><rect x="1210.0" y="1246.4" width="5.0" height="3.2" rx="0.8"/><rect x="1217.0" y="1246.4" width="5.0" height="3.2" rx="0.8"/><rect x="1224.0" y="1246.4" width="5.0" height="3.2" rx="0.8"/><rect x="1231.0" y="1246.4" width="5.0" height="3.2" rx="0.8"/><rect x="1238.0" y="1246.4" width="5.0" height="3.2" rx="0.8"/><rect x="1245.0" y="1246.4" width="5.0" height="3.2" rx="0.8"/><rect x="1252.0" y="1246.4" width="5.0" height="3.2" rx="0.8"/><rect x="1164.5" y="1251.6" width="5.0" height="3.2" rx="0.8"/><rect x="1175.0" y="1251.6" width="5.0" height="3.2" rx="0.8"/><rect x="1182.0" y="1251.6" width="5.0" height="3.2" rx="0.8"/><rect x="1189.0" y="1251.6" width="5.0" height="3.2" rx="0.8"/><rect x="1196.0" y="1251.6" width="5.0" height="3.2" rx="0.8"/><rect x="1203.0" y="1251.6" width="5.0" height="3.2" rx="0.8"/><rect x="1210.0" y="1251.6" width="5.0" height="3.2" rx="0.8"/><rect x="1217.0" y="1251.6" width="5.0" height="3.2" rx="0.8"/><rect x="1224.0" y="1251.6" width="5.0" height="3.2" rx="0.8"/><rect x="1231.0" y="1251.6" width="5.0" height="3.2" rx="0.8"/><rect x="1238.0" y="1251.6" width="5.0" height="3.2" rx="0.8"/><rect x="1245.0" y="1251.6" width="5.0" height="3.2" rx="0.8"/><rect x="1252.0" y="1251.6" width="5.0" height="3.2" rx="0.8"/><rect x="1164.5" y="1256.8" width="5.0" height="3.2" rx="0.8"/><rect x="1175.0" y="1256.8" width="5.0" height="3.2" rx="0.8"/><rect x="1182.0" y="1256.8" width="5.0" height="3.2" rx="0.8"/><rect x="1231.0" y="1256.8" width="5.0" height="3.2" rx="0.8"/><rect x="1238.0" y="1256.8" width="5.0" height="3.2" rx="0.8"/><rect x="1245.0" y="1256.8" width="5.0" height="3.2" rx="0.8"/><rect x="1252.0" y="1256.8" width="5.0" height="3.2" rx="0.8"/><rect x="1189.0" y="1256.8" width="36.0" height="3.2" rx="0.8"/><rect x="1259.0" y="1236.0" width="12.0" height="3.2" rx="0.8"/><rect x="1263.0" y="1241.2" width="5.0" height="3.2" rx="0.8"/><rect x="1263.0" y="1246.4" width="5.0" height="3.2" rx="0.8"/><rect x="1276.0" y="1236.0" width="5.0" height="3.2" rx="0.8"/><rect x="1283.0" y="1236.0" width="5.0" height="3.2" rx="0.8"/><rect x="1290.0" y="1236.0" width="5.0" height="3.2" rx="0.8"/><rect x="1276.0" y="1241.2" width="5.0" height="3.2" rx="0.8"/><rect x="1283.0" y="1241.2" width="5.0" height="3.2" rx="0.8"/><rect x="1290.0" y="1241.2" width="5.0" height="3.2" rx="0.8"/><rect x="1276.0" y="1246.4" width="5.0" height="3.2" rx="0.8"/><rect x="1283.0" y="1246.4" width="5.0" height="3.2" rx="0.8"/><rect x="1290.0" y="1246.4" width="5.0" height="3.2" rx="0.8"/><rect x="1283.0" y="1251.6" width="5.0" height="3.2" rx="0.8"/><rect x="1276.0" y="1256.8" width="5.0" height="3.2" rx="0.8"/><rect x="1283.0" y="1256.8" width="5.0" height="3.2" rx="0.8"/><rect x="1290.0" y="1256.8" width="5.0" height="3.2" rx="0.8"/></g>
<rect x="1318.5" y="1146.2" width="62" height="117" fill="#fff" stroke="#141010" stroke-width="3"/>
<rect x="1325" y="1148" width="49.5" height="9.7" fill="#fff" stroke="#141010" stroke-width="1.8"/>
<rect x="1333" y="1148" width="33" height="6" fill="#fff" stroke="#141010" stroke-width="1.5"/>
<rect x="1325" y="1171.2" width="49.5" height="11" fill="#fff" stroke="#141010" stroke-width="1.8"/>
<rect x="1325" y="1183.6" width="49.5" height="11.5" fill="#fff" stroke="#141010" stroke-width="1.8"/>
<rect x="1326" y="1172.2" width="3" height="2.5" fill="#141010"/><rect x="1326" y="1184.6" width="3" height="2.5" fill="#141010"/>
<g fill="#111" stroke="#111" stroke-width="0.5">
<text x="133.00" y="34.30" font-size="35.20" textLength="520.00" lengthAdjust="spacing">Hook up to a 5V power source,</text>
<text x="134.00" y="76.60" font-size="35.20" textLength="533.50" lengthAdjust="spacing">such as your phone power plug</text>
<text x="167.00" y="450.00" font-size="35.00" textLength="261.00" lengthAdjust="spacing">Powered by USB</text>
<text x="162.50" y="604.50" font-size="35.50" textLength="221.00" lengthAdjust="spacing">HDMI Output</text>
<text x="438.00" y="604.50" font-size="35.50" textLength="265.50" lengthAdjust="spacing">Switch to NTSC</text>
<text x="915.00" y="300.30" font-size="34.80" textLength="340.00" lengthAdjust="spacing">Stereo L/R Audio Input</text>
<text x="886.00" y="504.70" font-size="34.60" textLength="265.00" lengthAdjust="spacing">CVBS video Input</text>
<text x="67.00" y="1285.00" font-size="34.60" textLength="262.00" lengthAdjust="spacing">Display with HDMI</text>
<text x="452.00" y="1285.00" font-size="34.60" textLength="196.50" lengthAdjust="spacing">TV with HDMI</text>
<text x="857.50" y="1001.90" font-size="34.60" textLength="204.50" lengthAdjust="spacing">CABLE BOX</text>
<text x="1150.00" y="999.70" font-size="34.60" textLength="240.50" lengthAdjust="spacing">BLU RAY/DVD</text>
<text x="846.50" y="1342.00" font-size="34.50" textLength="261.50" lengthAdjust="spacing">GAME CONSOLE</text>
<text x="1192.00" y="1336.00" font-size="35.20" textLength="156.00" lengthAdjust="spacing">PC/Laptop</text>
</g>
</svg>
</body></html>
